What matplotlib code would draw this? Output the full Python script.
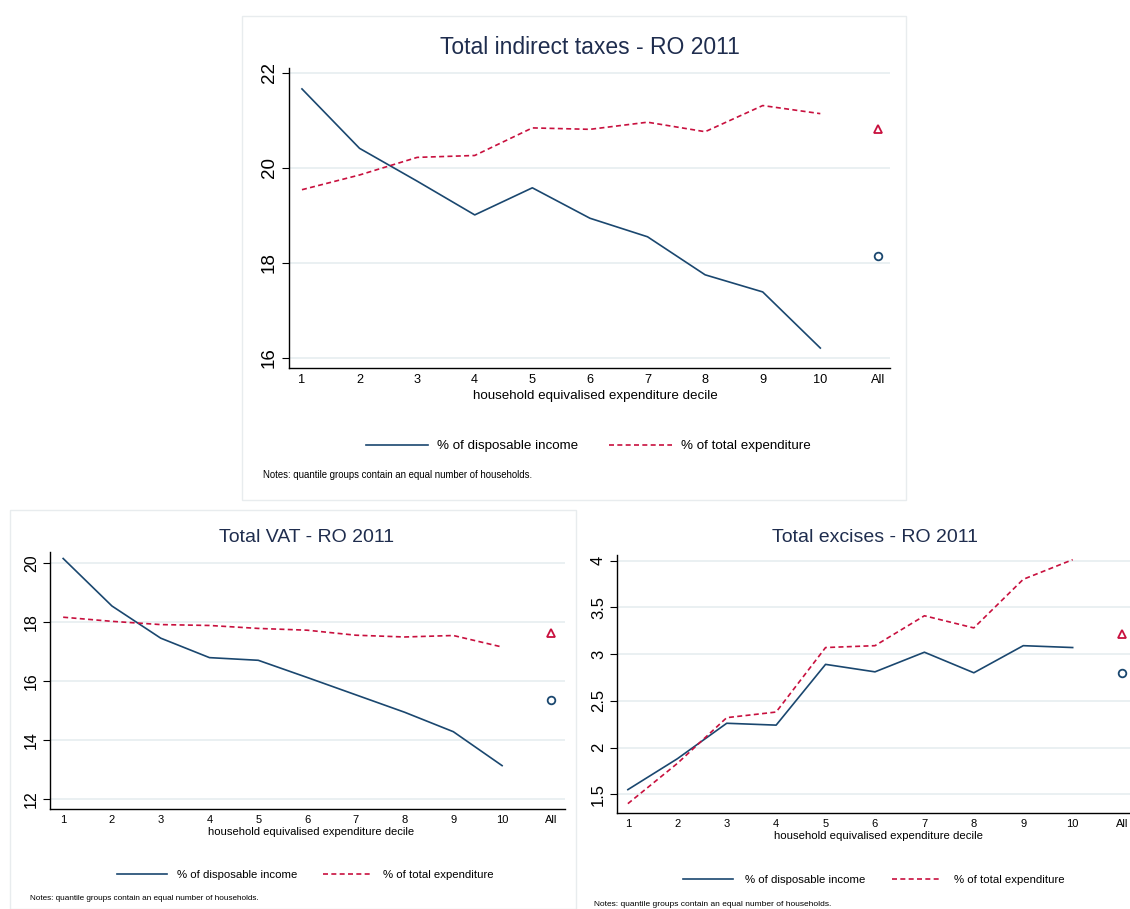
import numpy as np
import matplotlib
matplotlib.use("Agg")
import matplotlib.pyplot as plt
from matplotlib.patches import Rectangle

plt.rcParams['font.family'] = ['Liberation Sans', 'DejaVu Sans']

deciles = ['1', '2', '3', '4', '5', '6', '7', '8', '9', '10', 'All']

# total indirect taxes
ind_income = [21.66, 20.41, 19.72, 19.01, 19.58, 18.94, 18.55, 17.75, 17.39, 16.21]
ind_expend = [19.54, 19.85, 20.22, 20.26, 20.84, 20.81, 20.96, 20.76, 21.31, 21.14]
ind_all_income = 18.15
ind_all_expend = 20.81

# total VAT
vat_income = [20.15, 18.54, 17.45, 16.79, 16.70, 16.12, 15.53, 14.94, 14.28, 13.13]
vat_expend = [18.16, 18.02, 17.91, 17.88, 17.78, 17.72, 17.55, 17.49, 17.54, 17.15]
vat_all_income = 15.36
vat_all_expend = 17.62

# total excises
exc_income = [1.55, 1.88, 2.26, 2.24, 2.89, 2.81, 3.02, 2.80, 3.09, 3.07]
exc_expend = [1.40, 1.83, 2.32, 2.38, 3.07, 3.09, 3.41, 3.28, 3.80, 4.01]
exc_all_income = 2.80
exc_all_expend = 3.21

NAVY = '#1a476f'
RED = '#c8103e'
GRID = '#e6eef0'
TITLE = '#1f2d4e'

W, H = 1130, 909
fig = plt.figure(figsize=(W / 100, H / 100), dpi=100)


def px(x0, y0, x1, y1):
    # pixel box -> figure fraction [left, bottom, width, height]
    return [x0 / W, 1 - y1 / H, (x1 - x0) / W, (y1 - y0) / H]


# light panel frames
for (x0, y0, x1, y1) in [(242, 16, 906, 500), (10, 510, 576, 909)]:
    fig.add_artist(Rectangle((x0 / W, 1 - y1 / H), (x1 - x0) / W, (y1 - y0) / H,
                             transform=fig.transFigure, fill=False,
                             edgecolor='#e8ecee', lw=1))


def panel(box, income, expend, all_inc, all_exp, yticks, ylim, xlim,
          title, tpos, tsize, lpos, lsize, ytsize, xtsize, leg, note):
    ax = fig.add_axes(px(*box))
    x = np.arange(1, len(income) + 1)
    l1, = ax.plot(x, income, color=NAVY, lw=1.2, label='% of disposable income')
    l2, = ax.plot(x, expend, color=RED, lw=1.2, ls=(0, (3, 2)),
                  label='% of total expenditure')
    ax.plot([11], [all_inc], 'o', mfc='none', mec=NAVY, mew=1.3, ms=5.5)
    ax.plot([11], [all_exp], '^', mfc='none', mec=RED, mew=1.3, ms=6)
    ax.set_xlim(*xlim)
    ax.set_ylim(*ylim)
    ax.set_xticks(np.arange(1, 12))
    ax.set_xticklabels(deciles, fontsize=xtsize)
    ax.set_yticks(yticks)
    ax.set_yticklabels([('%g' % v) for v in yticks], fontsize=ytsize,
                       rotation=90, va='center')
    ax.tick_params(axis='x', length=0, pad=4)
    ax.tick_params(axis='y', length=5, width=0.8, pad=3)
    ax.yaxis.grid(True, color=GRID, lw=1.2)
    ax.set_axisbelow(True)
    for s in ['top', 'right']:
        ax.spines[s].set_visible(False)
    for s in ['left', 'bottom']:
        ax.spines[s].set_linewidth(1.0)

    fig.text(tpos[0] / W, 1 - tpos[1] / H, title, fontsize=tsize, color=TITLE,
             ha='center', va='center')
    fig.text(lpos[0] / W, 1 - lpos[1] / H,
             'household equivalised expenditure decile', fontsize=lsize,
             ha='center', va='center')
    lx, ly, lfs, hl, htp, cs = leg
    fig.legend(handles=[l1, l2], loc='center left', ncol=2, frameon=False,
               bbox_to_anchor=(lx / W, 1 - ly / H), fontsize=lfs,
               handlelength=hl, handletextpad=htp, columnspacing=cs,
               borderpad=0, borderaxespad=0)
    nx, ny, nfs = note
    fig.text(nx / W, 1 - ny / H,
             'Notes: quantile groups contain an equal number of households.',
             fontsize=nfs, ha='left', va='center')
    return ax


panel((289, 68, 890, 368), ind_income, ind_expend, ind_all_income, ind_all_expend,
      [16, 18, 20, 22], (15.79, 22.1), (0.775, 11.21),
      'Total indirect taxes - RO 2011', (590, 47), 16.5, (595, 396), 9.6,
      13.5, 9.2, (366, 446, 9.6, 4.66, 0.68, 2.33), (263, 475, 6.9))

panel((50, 552, 565, 809), vat_income, vat_expend, vat_all_income, vat_all_expend,
      [12, 14, 16, 18, 20], (11.66, 20.37), (0.73, 11.29),
      'Total VAT - RO 2011', (307, 537), 14, (311, 832), 8.1,
      11.5, 8.0, (117, 875, 8.2, 4.39, 0.88, 2.28), (30, 899, 5.9))

panel((617, 555, 1130, 813), exc_income, exc_expend, exc_all_income, exc_all_expend,
      [1.5, 2, 2.5, 3, 3.5, 4], (1.30, 4.06), (0.78, 11.16),
      'Total excises - RO 2011', (875, 537), 14, (879, 836), 8.2,
      12, 8.0, (683, 880, 8.2, 4.39, 1.05, 2.37), (594, 904, 6.0))

fig.savefig('out.png', dpi=100, facecolor='white')
